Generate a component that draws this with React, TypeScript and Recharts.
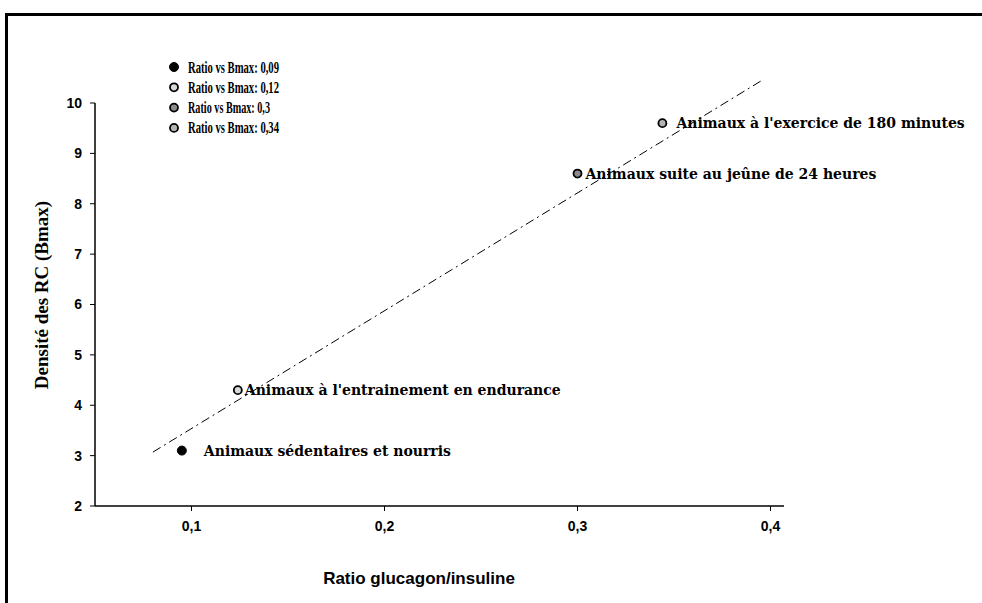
import React from 'react';
import {
  ScatterChart,
  Scatter,
  XAxis,
  YAxis,
  ReferenceLine,
  Legend,
  LabelList,
} from 'recharts';

// values (legend text gives the rounded ratios)
const ratios = [0.095, 0.124, 0.3, 0.344];
const bmax = [3.1, 4.3, 8.6, 9.6];
const groups = [
  'Animaux sédentaires et nourris',
  "Animaux à l'entrainement en endurance",
  'Animaux suite au jeûne de 24 heures',
  "Animaux à l'exercice de 180 minutes",
];
const legendNames = [
  'Ratio vs Bmax: 0,09',
  'Ratio vs Bmax: 0,12',
  'Ratio vs Bmax: 0,3',
  'Ratio vs Bmax: 0,34',
];
const xTicks = [0.1, 0.2, 0.3, 0.4];
const yTicks = [2, 3, 4, 5, 6, 7, 8, 9, 10];
const trendX = [0.08, 0.3956];
const trendY = [3.07, 10.45];

const markerFill = ['#000', '#d8d8d8', '#8a8a8a', '#b4b4b4'];
const labelGap = [22, 7, 8, 14];

const serif = '"Liberation Serif", "DejaVu Serif", serif';
const wideSerif = '"DejaVu Serif", "Liberation Serif", serif';
const narrow = '"Liberation Sans Narrow", "Liberation Sans", Arial, sans-serif';

function Marker({ cx, cy, i }: { cx: number; cy: number; i: number }) {
  return (
    <circle
      cx={cx}
      cy={cy}
      r={i === 0 ? 4.5 : 4}
      fill={markerFill[i]}
      stroke="#000"
      strokeWidth={i === 0 ? 1 : 1.8}
    />
  );
}

const series = ratios.map((r, i) => ({
  name: legendNames[i],
  data: [{ x: r, y: bmax[i], label: groups[i] }],
}));

function LegendBox({ payload }: any) {
  return (
    <svg width={200} height={90} style={{ overflow: 'visible' }}>
      {(payload || []).map((p: any, i: number) => (
        <g key={p.value}>
          <Marker cx={6} cy={10 + i * 20.3} i={i} />
          <text
            x={20}
            y={15.5 + i * 20.3}
            fontFamily={serif}
            fontWeight="bold"
            fontSize={17}
            textLength={i === 2 ? 82 : 91}
            lengthAdjust="spacingAndGlyphs"
            fill="#000"
          >
            {p.value}
          </text>
        </g>
      ))}
    </svg>
  );
}

export default function App() {
  return (
    <div style={{ position: 'absolute', left: 0, top: 0, width: 982, height: 603, background: '#fff' }}>
      <div
        style={{
          position: 'absolute',
          left: 5,
          top: 13,
          width: 977,
          height: 590,
          borderTop: '3px solid #000',
          borderLeft: '3px solid #000',
        }}
      />
      <div style={{ position: 'absolute', left: 0, top: 0 }}>
        <ScatterChart width={982} height={603} margin={{ top: 103, right: 198, bottom: 67, left: 35 }}>
          <XAxis
            type="number"
            dataKey="x"
            domain={[0.05, 0.407]}
            ticks={xTicks}
            allowDataOverflow
            tickFormatter={(v: number) => String(v).replace('.', ',')}
            axisLine={{ stroke: '#000', strokeWidth: 1.5 }}
            tickLine={{ stroke: '#000' }}
            tickSize={5}
            tick={{ fill: '#000', fontSize: 14, fontWeight: 'bold', fontFamily: narrow, dy: 8 }}
            height={30}
            label={{
              content: () => (
                <text
                  x={419}
                  y={584}
                  textAnchor="middle"
                  fontFamily={narrow}
                  fontWeight="bold"
                  fontSize={17}
                  fill="#000"
                >
                  Ratio glucagon/insuline
                </text>
              ),
            }}
          />
          <YAxis
            type="number"
            dataKey="y"
            domain={[2, 10]}
            ticks={yTicks}
            allowDataOverflow
            axisLine={{ stroke: '#000', strokeWidth: 1.5 }}
            tickLine={{ stroke: '#000' }}
            tickSize={5}
            tick={{ fill: '#000', fontSize: 14, fontWeight: 'bold', fontFamily: narrow, dx: -6 }}
            width={60}
            label={{
              content: () => (
                <text
                  x={48}
                  y={295}
                  transform="rotate(-90 48 295)"
                  textAnchor="middle"
                  fontFamily={serif}
                  fontWeight="bold"
                  fontSize={19}
                  fill="#000"
                >
                  Densité des RC (Bmax)
                </text>
              ),
            }}
          />
          <ReferenceLine
            segment={[
              { x: trendX[0], y: trendY[0] },
              { x: trendX[1], y: trendY[1] },
            ]}
            ifOverflow="visible"
            stroke="#000"
            strokeWidth={1}
            strokeDasharray="9 4 2 4"
          />
          <Legend
            content={<LegendBox />}
            verticalAlign="top"
            align="left"
            wrapperStyle={{ position: 'absolute', left: 168, top: 57, width: 200, height: 0, overflow: 'visible' }}
          />
          {series.map((s, i) => (
            <Scatter
              key={s.name}
              name={s.name}
              data={s.data}
              isAnimationActive={false}
              shape={(p: any) => <Marker cx={p.cx} cy={p.cy} i={i} />}
            >
              <LabelList
                dataKey="label"
                content={(p: any) => (
                  <text
                    x={p.x + p.width / 2 + labelGap[i]}
                    y={p.y + p.height / 2 + 5}
                    fontFamily={wideSerif}
                    fontWeight="bold"
                    fontSize={14}
                    fill="#000"
                  >
                    {p.value}
                  </text>
                )}
              />
            </Scatter>
          ))}
        </ScatterChart>
      </div>
    </div>
  );
}
